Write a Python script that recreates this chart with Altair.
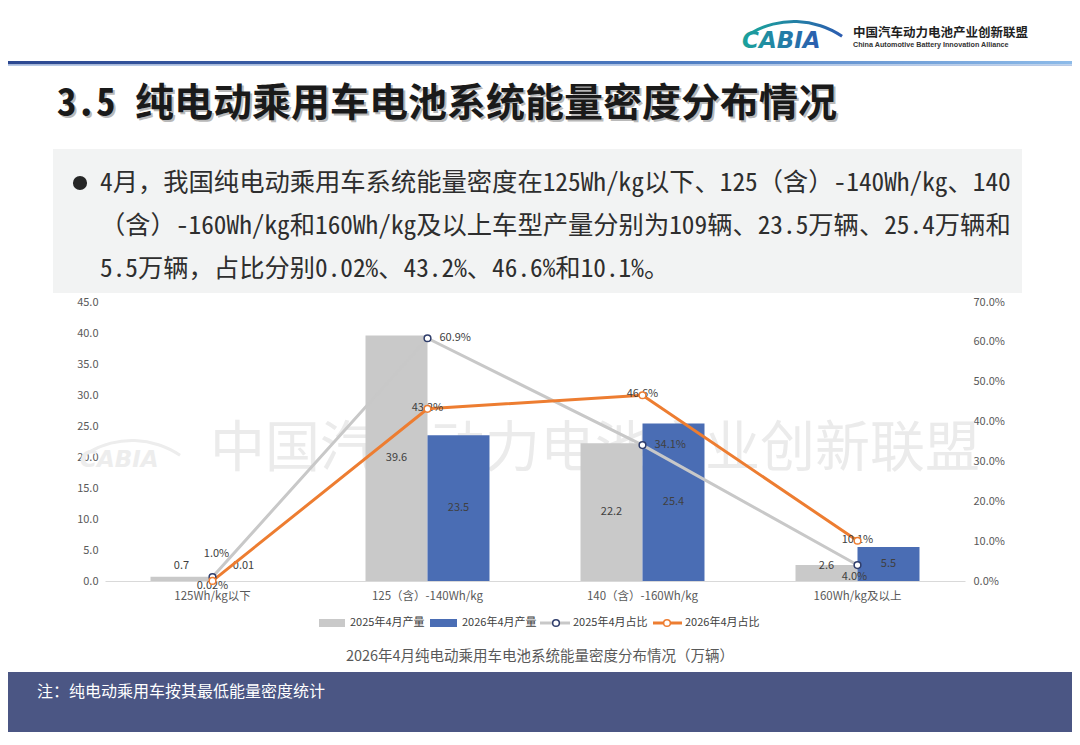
import altair as alt
import pandas as pd

# ---------------- data ----------------
categories = ["125Wh/kg以下", "125（含）-140Wh/kg", "140（含）-160Wh/kg", "160Wh/kg及以上"]
series_names = ["2025年4月产量", "2026年4月产量", "2025年4月占比", "2026年4月占比"]
prod_2025 = [0.7, 39.6, 22.2, 2.6]
prod_2026 = [0.01, 23.5, 25.4, 5.5]
share_2025 = [0.010, 0.609, 0.341, 0.040]
share_2026 = [0.0002, 0.432, 0.466, 0.101]
share_2025_pos = ["above", "right", "right", "below"]
share_2026_pos = ["low", "center", "center", "center"]
left_ticks = [0, 5, 10, 15, 20, 25, 30, 35, 40, 45]
right_ticks = [0, 0.1, 0.2, 0.3, 0.4, 0.5, 0.6, 0.7]

title_text = "3.5 纯电动乘用车电池系统能量密度分布情况"
body_lines = [
    "4月，我国纯电动乘用车系统能量密度在125Wh/kg以下、125（含）-140Wh/kg、140",
    "（含）-160Wh/kg和160Wh/kg及以上车型产量分别为109辆、23.5万辆、25.4万辆和",
    "5.5万辆，占比分别0.02%、43.2%、46.6%和10.1%。",
]
caption_text = "2026年4月纯电动乘用车电池系统能量密度分布情况（万辆）"
note_text = "注：纯电动乘用车按其最低能量密度统计"
org_cn = "中国汽车动力电池产业创新联盟"
org_en = "China Automotive Battery Innovation Alliance"
logo_text = "CABIA"

# ---------------- tables ----------------
def fmt_num(v):
    return f"{v:.2f}" if v < 0.1 else f"{v:.1f}"

def fmt_pct(v):
    return f"{v*100:.2f}%" if v < 0.001 else f"{v*100:.1f}%"

bar_rows = []
for name, vals in [(series_names[0], prod_2025), (series_names[1], prod_2026)]:
    for c, v in zip(categories, vals):
        bar_rows.append({"cat": c, "series": name, "value": v,
                         "label": fmt_num(v), "label_y": max(v / 2, 2.5)})
bar_df = pd.DataFrame(bar_rows)

def share_df(vals, pos):
    return pd.DataFrame({"cat": categories, "value": vals,
                         "label": [fmt_pct(v) for v in vals], "pos": pos})

s25 = share_df(share_2025, share_2025_pos)
s26 = share_df(share_2026, share_2026_pos)

# ---------------- styling ----------------
F = "Noto Sans CJK SC"
FM = "Noto Sans Mono CJK SC, Noto Sans CJK SC"
AX = "#595959"
GRAY_BAR = "#c9c9c9"
BLUE_BAR = "#4a6db4"
GRAY_LINE = "#c8c8c8"
ORANGE = "#ed7d31"
NAVY = "#2f3d6b"

OX, OY = 105, 302  # page position of the plot origin

def px(X):
    return X - OX

def py(Y):
    return Y - OY

ONE = pd.DataFrame({"a": [0]})

def txt(s, X, Y, **kw):
    return alt.Chart(pd.DataFrame({"t": [s]})).mark_text(**kw).encode(
        x=alt.value(px(X)), y=alt.value(py(Y)), text="t:N")

def rect(X1, Y1, X2, Y2, fill):
    return alt.Chart(ONE).mark_rect(fill=fill).encode(
        x=alt.value(px(X1)), x2=alt.value(px(X2)), y=alt.value(py(Y1)), y2=alt.value(py(Y2)))

def rule(X1, X2, Y, color, w):
    return alt.Chart(ONE).mark_rule(color=color, strokeWidth=w).encode(
        x=alt.value(px(X1)), x2=alt.value(px(X2)), y=alt.value(py(Y)))

def dot(X, Y, fill, stroke, size, sw=1.5):
    return alt.Chart(ONE).mark_circle(fill=fill, stroke=stroke, strokeWidth=sw, size=size, opacity=1).encode(
        x=alt.value(px(X)), y=alt.value(py(Y)))

def arc(CX, CY, r, r2, t1, t2, fill):
    return alt.Chart(ONE).mark_arc(radius=r, radius2=r2, theta=t1, theta2=t2, fill=fill).encode(
        x=alt.value(px(CX)), y=alt.value(py(CY)))

xaxis = alt.Axis(title=None, labelAngle=0, ticks=False, tickSize=0, grid=False,
                 domainColor="#d9d9d9", domainWidth=1, labelPadding=9,
                 labelColor=AX, labelFontSize=11.5, labelFont=F)
X = alt.X("cat:N", sort=categories, scale=alt.Scale(paddingInner=0, paddingOuter=0), axis=xaxis)
XO = alt.XOffset("series:N", sort=series_names[:2], scale=alt.Scale(paddingInner=0, paddingOuter=0.734))

left_axis = alt.Axis(title=None, values=left_ticks, format=".1f", ticks=False, tickSize=0,
                     domain=False, grid=False, labelPadding=7, labelColor=AX,
                     labelFontSize=11, labelFont=F)
right_axis = alt.Axis(title=None, orient="right", values=right_ticks, format=".1%", ticks=False,
                      tickSize=0, domain=False, grid=False, labelPadding=8, labelColor=AX,
                      labelFontSize=11, labelFont=F)
YL = alt.Scale(domain=[0, 45], nice=False, zero=True)
YR = alt.Scale(domain=[0, 0.7], nice=False, zero=True)

# ---------------- decorations (background) ----------------
header_grad = {"gradient": "linear", "x1": 0, "x2": 1, "y1": 0, "y2": 0,
               "stops": [{"offset": 0, "color": "#2c4891"}, {"offset": 0.6, "color": "#4a78bf"},
                         {"offset": 1, "color": "#8dbbe9"}]}
logo_grad = {"gradient": "linear", "x1": 0, "x2": 1, "y1": 0, "y2": 0,
             "stops": [{"offset": 0, "color": "#1aa39b"}, {"offset": 1, "color": "#2c5bb0"}]}

deco_back = [
    rect(8, 61, 1072, 64.5, header_grad),
    rect(8, 64.5, 1072, 66, "#b7c9e6"),
    rect(53, 149, 1022, 293, "#f2f3f3"),
    rect(8, 672, 1072, 740, "#4b5684"),
    # watermark
    txt(org_cn, 210, 449, font=F, fontSize=55, color="#ebebeb", align="left"),
    txt(logo_text, 80, 467, font="DejaVu Sans", fontSize=23, fontWeight="bold", fontStyle="italic",
        color="#ededed", align="left", baseline="alphabetic"),
    arc(132, 526, 87, 84, 5.753, 6.880, "#ededed"),
]

# ---------------- chart marks ----------------
bars = alt.Chart(bar_df).mark_bar().encode(
    x=X, xOffset=XO,
    y=alt.Y("value:Q", scale=YL, axis=left_axis),
    color=alt.Color("series:N", scale=alt.Scale(domain=series_names[:2], range=[GRAY_BAR, BLUE_BAR]),
                    legend=None),
)
bar_text = alt.Chart(bar_df).mark_text(font=F, fontSize=11, color="#404040").encode(
    x=X, xOffset=XO,
    y=alt.Y("label_y:Q", scale=YL, axis=None),
    text="label:N",
)

line25 = alt.Chart(s25).mark_line(color=GRAY_LINE, strokeWidth=3).encode(
    x=X, y=alt.Y("value:Q", scale=YR, axis=right_axis))
line26 = alt.Chart(s26).mark_line(color=ORANGE, strokeWidth=3).encode(
    x=X, y=alt.Y("value:Q", scale=YR, axis=None))

def share_labels(df, pos, **kw):
    return alt.Chart(df).transform_filter(alt.datum.pos == pos).mark_text(
        font=F, fontSize=11, color="#404040", **kw).encode(
        x=X, y=alt.Y("value:Q", scale=YR, axis=None), text="label:N")

lab25 = [
    share_labels(s25, "above", dy=-23, dx=4),
    share_labels(s25, "right", align="left", dx=12),
    share_labels(s25, "below", dy=12, dx=-3),
]
lab26 = [
    share_labels(s26, "low", dy=5),
    share_labels(s26, "center", dy=-1),
]

pts25 = alt.Chart(s25).mark_circle(fill="white", stroke=NAVY, strokeWidth=1.5, size=45, opacity=1).encode(
    x=X, y=alt.Y("value:Q", scale=YR, axis=None))
pts26 = alt.Chart(s26).mark_circle(fill="white", stroke=ORANGE, strokeWidth=1.5, size=45, opacity=1).encode(
    x=X, y=alt.Y("value:Q", scale=YR, axis=None))

# ---------------- decorations (foreground) ----------------
deco_front = [
    # header logo
    arc(794, 107, 87, 84, 5.753, 6.880, logo_grad),
    txt(logo_text, 742, 48, font="DejaVu Sans", fontSize=23, fontWeight="bold", fontStyle="italic",
        fill=logo_grad, align="left", baseline="alphabetic"),
    txt(org_cn, 853, 33, font=F, fontSize=12.5, fontWeight="bold", color="#1f1f1f", align="left"),
    txt(org_en, 853, 45, font="Liberation Sans", fontSize=7.2, fontWeight="bold", color="#333333",
        align="left"),
    # title with shadow
    txt(title_text, 59, 106, font=FM, fontSize=39, fontWeight="bold", color="#8c8c8c",
        opacity=0.6, align="left"),
    txt(title_text, 57, 104, font=FM, fontSize=39, fontWeight="bold", color="#1a1a1a", align="left"),
    # body
    dot(80, 183, "#262626", "#262626", 200, 0),
    txt(body_lines[0], 100, 183, font=FM, fontSize=25.3, color="#2e2e2e", align="left"),
    txt(body_lines[1], 100, 226, font=FM, fontSize=25.3, color="#2e2e2e", align="left"),
    txt(body_lines[2], 100, 269, font=FM, fontSize=25.3, color="#2e2e2e", align="left"),
    # legend
    rect(319, 619, 345, 627, GRAY_BAR),
    txt(series_names[0], 350, 623, font=F, fontSize=11, color="#404040", align="left"),
    rect(430, 619, 457, 627, BLUE_BAR),
    txt(series_names[1], 462, 623, font=F, fontSize=11, color="#404040", align="left"),
    rule(540, 570, 623, GRAY_LINE, 3),
    dot(556, 623, "white", NAVY, 45),
    txt(series_names[2], 573, 623, font=F, fontSize=11, color="#404040", align="left"),
    rule(653, 682, 623, ORANGE, 3),
    dot(667, 623, "white", ORANGE, 45),
    txt(series_names[3], 685, 623, font=F, fontSize=11, color="#404040", align="left"),
    # caption and note
    txt(caption_text, 540, 657, font=F, fontSize=14.5, color=AX),
    txt(note_text, 37, 692, font=F, fontSize=16, color="white", align="left"),
]

layers = deco_back + [bars, bar_text, line25, line26] + lab25 + lab26 + [pts25, pts26] + deco_front

chart = alt.layer(*layers).resolve_scale(y="independent").properties(
    width=860, height=279,
    padding={"left": 97, "top": 294, "right": 107, "bottom": 151},
    autosize=alt.AutoSizeParams(type="none"),
    background="white",
).configure_view(stroke=None)

chart.save("out.html", embed_options={"renderer": "svg", "actions": False})
